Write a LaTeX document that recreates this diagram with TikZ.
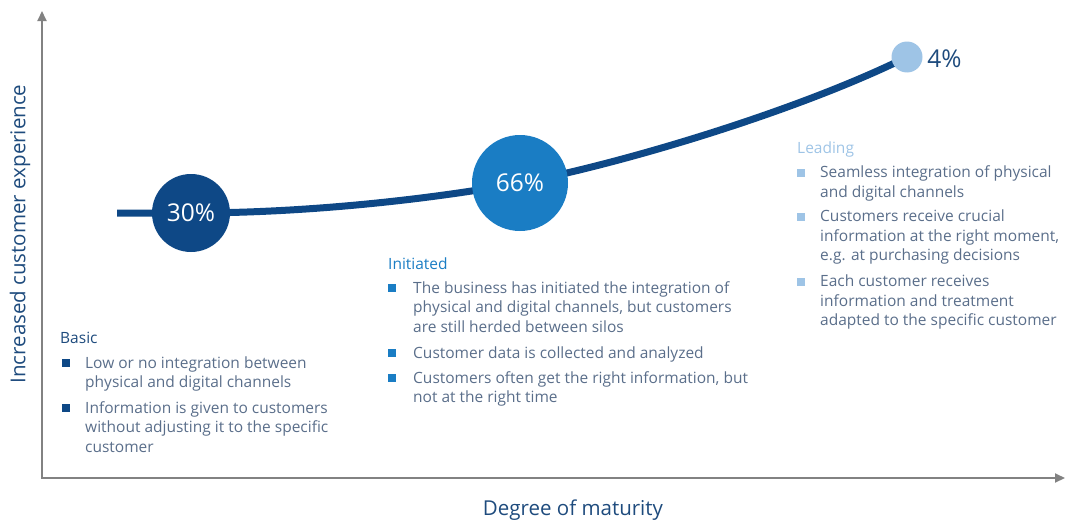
\documentclass[tikz,border=0pt]{standalone}
\usepackage{fontspec}
\setmainfont{Open Sans}
\usetikzlibrary{positioning,arrows.meta}
\definecolor{navy}{RGB}{14,72,134}
\definecolor{midblue}{RGB}{26,125,196}
\definecolor{lightblue}{RGB}{158,196,230}
\definecolor{bodytext}{RGB}{90,110,138}
\definecolor{axisgray}{RGB}{130,130,130}
\definecolor{labelblue}{RGB}{30,75,125}
\tikzset{
	bodyfont/.style={font=\fontsize{15.5}{19.3}\selectfont},
	item/.style={bodyfont,text=bodytext,align=left,anchor=base west,inner sep=0},
	heading/.style={bodyfont,anchor=base west,inner sep=0},
	bullet/.style={rectangle,inner sep=0,minimum size=8.5pt},
	stage/.style={circle,inner sep=0,text=white,font=\fontsize{24.5}{28}\selectfont},
	axislabel/.style={text=labelblue,font=\fontsize{20.5}{24}\selectfont},
}
\begin{document}
\begin{tikzpicture}[x=1pt,y=-1pt]
	\useasboundingbox (0,0) rectangle (1066,522);
	% axes
	\coordinate (o) at (42,478);
	\coordinate (ytip) at (42,11);
	\coordinate (xtip) at (1065,478);
	\draw[axisgray,line width=2pt,{Triangle[length=10pt,width=9pt]}-{Triangle[length=10pt,width=9pt]}] (ytip) -- (o) -- (xtip);
	\node[axislabel,rotate=90] (ylabel) at (20,234) {Increased customer experience};
	\node[axislabel] (xlabel) at (573,510) {Degree of maturity};
	% maturity curve
	\coordinate (start) at (117,213);
	\coordinate (p30) at (191,213);
	\coordinate (p66) at (520,183);
	\coordinate (p4) at (907,57);
	\draw[navy,line width=7pt] (start) -- (p30) .. controls (300,213) and (420,201) .. (p66) .. controls (625,163) and (800,110) .. (p4);
	\node[stage,fill=navy,minimum size=78pt] (c30) at (p30) {30\%};
	\node[stage,fill=midblue,minimum size=96pt] (c66) at (p66) {66\%};
	\node[stage,fill=lightblue,minimum size=31pt] (c4) at (p4) {};
	\node[stage,text=labelblue,anchor=west] (l4) at (925,59) {4\%};
	% basic (base = last line)
	\node[heading,text=labelblue] (basic) at (60,343) {Basic};
	\node[bullet,fill=navy] (bb1) at (66,363) {};
	\node[item] (basic1) at (85,387.5) {Low or no integration between\\physical and digital channels};
	\node[bullet,fill=navy] (bb2) at (66,408) {};
	\node[item] (basic2) at (85,452) {Information is given to customers\\without adjusting it to the specific\\customer};
	% initiated
	\node[heading,text=midblue] (init) at (388,269) {Initiated};
	\node[bullet,fill=midblue] (ib1) at (392,288) {};
	\node[item] (init1) at (413,332) {The business has initiated the integration of\\physical and digital channels, but customers\\are still herded between silos};
	\node[bullet,fill=midblue] (ib2) at (392,353) {};
	\node[item] (init2) at (413,358) {Customer data is collected and analyzed};
	\node[bullet,fill=midblue] (ib3) at (392,378) {};
	\node[item] (init3) at (413,402.5) {Customers often get the right information, but\\not at the right time};
	% leading
	\node[heading,text=lightblue] (lead) at (797,153) {Leading};
	\node[bullet,fill=lightblue] (lb1) at (801,173) {};
	\node[item] (lead1) at (820,197) {Seamless integration of physical\\and digital channels};
	\node[bullet,fill=lightblue] (lb2) at (801,217) {};
	\node[item] (lead2) at (820,260.5) {Customers receive crucial\\information at the right moment,\\e.g. at purchasing decisions};
	\node[bullet,fill=lightblue] (lb3) at (801,282) {};
	\node[item] (lead3) at (820,325.5) {Each customer receives\\information and treatment\\adapted to the specific customer};
\end{tikzpicture}
\end{document}
